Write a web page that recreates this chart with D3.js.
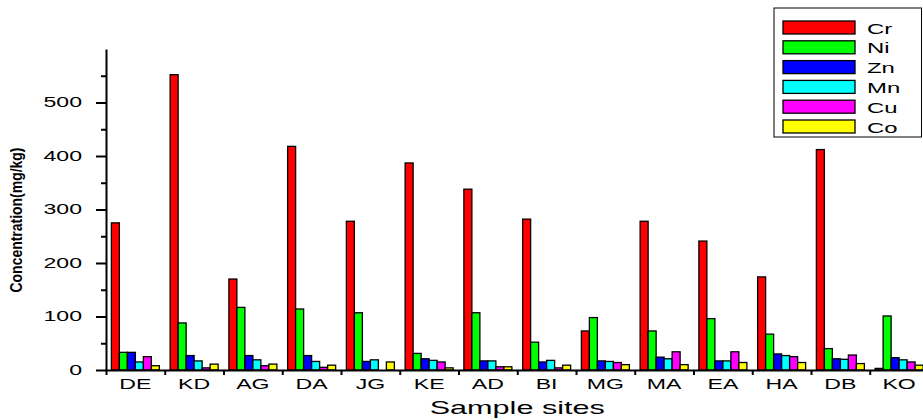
<!DOCTYPE html>
<html>
<head>
<meta charset="utf-8">
<script src="https://cdn.jsdelivr.net/npm/d3@7"></script>
<style>
  html, body { margin: 0; padding: 0; background: #fff; }
  svg { display: block; font-family: "Liberation Sans", Arial, sans-serif; }
</style>
</head>
<body>
<svg id="chart" width="923" height="420"></svg>
<script>
// Sampling sites along the x axis
const sites = ["DE", "KD", "AG", "DA", "JG", "KE", "AD", "BI", "MG", "MA", "EA", "HA", "DB", "KO"];

// Metals, in legend / bar order
const metals = ["Cr", "Ni", "Zn", "Mn", "Cu", "Co"];
const metalColors = ["#ff0000", "#00ff00", "#0000ff", "#00ffff", "#ff00ff", "#ffff00"];

// Concentrations (mg/kg) per metal, one value per site
const cr = [275, 552, 170, 418, 278, 387, 338, 282, 73, 278, 241, 174, 412, 3];
const ni = [33, 88, 117, 114, 107, 31, 107, 52, 98, 73, 96, 67, 40, 101];
const zn = [33, 27, 27, 27, 16, 21, 17, 15, 17, 24, 17, 30, 21, 23];
const mn = [15, 17, 19, 16, 19, 18, 17, 18, 16, 21, 17, 27, 20, 19];
const cu = [25, 4, 8, 5, 0, 15, 6, 4, 14, 34, 34, 25, 28, 15];
const co = [8, 11, 11, 9, 15, 4, 6, 9, 10, 10, 14, 14, 12, 9];

// Axis ticks
const yMajorTicks = [0, 100, 200, 300, 400, 500];
const yMinorTicks = [50, 150, 250, 350, 450, 550];

const seriesValues = [cr, ni, zn, mn, cu, co];
const rows = sites.map((s, i) => ({ site: s, values: metals.map((m, k) => ({ metal: m, value: seriesValues[k][i] })) }));

const svg = d3.select("#chart");
const stretch = 1.65;           // wide lettering used throughout the figure
const x0Left = 106, step = 58.75;
const x0 = d3.scaleBand()
  .domain(sites)
  .range([x0Left, x0Left + step * sites.length])
  .paddingInner(0.183)
  .paddingOuter(0.0915);
const x1 = d3.scaleBand().domain(metals).range([0, x0.bandwidth()]);
const y = d3.scaleLinear().domain([0, 600]).range([370, 49]);
const color = d3.scaleOrdinal().domain(metals).range(metalColors);

// Bars
const groups = svg.append("g").selectAll("g")
  .data(rows).join("g")
  .attr("transform", d => `translate(${x0(d.site)},0)`);
groups.selectAll("rect")
  .data(d => d.values).join("rect")
  .attr("x", d => x1(d.metal))
  .attr("y", d => y(d.value))
  .attr("width", x1.bandwidth())
  .attr("height", d => y(0) - y(d.value))
  .attr("fill", d => color(d.metal))
  .attr("stroke", "#000")
  .attr("stroke-width", 1.3);

// Y axis: major ticks with labels
const yAxisG = svg.append("g")
  .attr("transform", `translate(${x0Left},0)`)
  .call(d3.axisLeft(y).tickValues(yMajorTicks).tickSize(10).tickSizeOuter(0));
yAxisG.select(".domain").attr("stroke-width", 2);
yAxisG.selectAll(".tick line").attr("stroke-width", 2);
yAxisG.selectAll(".tick text")
  .attr("font-size", 14)
  .attr("fill", "#000")
  .attr("x", -24 / stretch)
  .attr("transform", `scale(${stretch},1)`);

// Y axis: minor ticks
const yMinorG = svg.append("g")
  .attr("transform", `translate(${x0Left},0)`)
  .call(d3.axisLeft(y).tickValues(yMinorTicks).tickSize(5).tickFormat(""));
yMinorG.select(".domain").remove();
yMinorG.selectAll(".tick line").attr("stroke-width", 2);

// X axis: ticks on group boundaries, labels at group centres
const boundaries = d3.scaleLinear().domain([0, sites.length]).range(x0.range());
const xAxisG = svg.append("g")
  .attr("transform", `translate(0,${y(0)})`)
  .call(d3.axisBottom(boundaries).tickValues(d3.range(sites.length + 1)).tickSize(5).tickSizeOuter(0).tickFormat(""));
xAxisG.select(".domain").attr("stroke-width", 2);
xAxisG.selectAll(".tick line").attr("stroke-width", 2);

const xLabelG = svg.append("g")
  .attr("transform", `translate(0,${y(0)})`)
  .call(d3.axisBottom(x0).tickSize(0).tickPadding(9));
xLabelG.select(".domain").remove();
xLabelG.selectAll(".tick text")
  .attr("font-size", 14)
  .attr("fill", "#000")
  .attr("transform", `scale(${stretch},1)`);
xLabelG.selectAll(".tick").attr("transform", d => `translate(${(x0(d) + x0.bandwidth() / 2)},0)`);

// Axis titles
const xMid = (x0.range()[0] + x0.range()[1]) / 2;
svg.append("text")
  .attr("transform", `translate(${xMid},414) scale(1.7,1)`)
  .attr("text-anchor", "middle")
  .attr("font-size", 18)
  .text("Sample sites");

svg.append("text")
  .attr("transform", "translate(22,220) rotate(-90)")
  .attr("text-anchor", "middle")
  .attr("font-size", 16)
  .attr("font-weight", "bold")
  .attr("textLength", 145)
  .attr("lengthAdjust", "spacingAndGlyphs")
  .text("Concentration(mg/kg)");

// Legend
const legend = svg.append("g");
legend.append("rect")
  .attr("x", 774).attr("y", 8)
  .attr("width", 147.5).attr("height", 129)
  .attr("fill", "#fff").attr("stroke", "#000").attr("stroke-width", 1);
const legendY = d3.scalePoint().domain(metals).range([21, 120]);
const items = legend.selectAll("g.item").data(metals).join("g")
  .attr("class", "item")
  .attr("transform", d => `translate(0,${legendY(d)})`);
items.append("rect")
  .attr("x", 783).attr("y", 0)
  .attr("width", 72).attr("height", 13)
  .attr("fill", d => color(d))
  .attr("stroke", "#000").attr("stroke-width", 1.3);
items.append("text")
  .attr("transform", `translate(867,12.5) scale(${stretch},1)`)
  .attr("font-size", 14.5)
  .text(d => d);
</script>
</body>
</html>
